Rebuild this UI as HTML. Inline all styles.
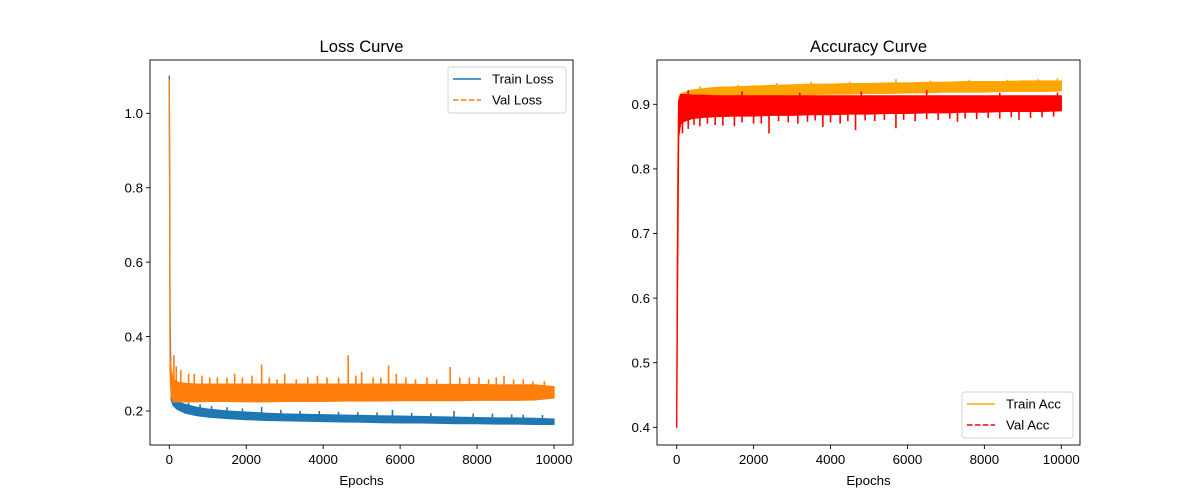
<!DOCTYPE html>
<html><head><meta charset="utf-8">
<style>
html,body{margin:0;padding:0;background:#fff;}
svg{display:block;font-family:"Liberation Sans","DejaVu Sans",sans-serif;}
</style></head>
<body>
<svg id="fig" width="1200" height="500" viewBox="0 0 1200 500"></svg>
<script>
// ---- data ----
const epochs = [0,20,50,100,200,400,700,1000,1500,2000,2500,3000,3500,4000,4500,5000,5500,6000,6500,7000,7500,8000,8500,9000,9500,10000];
const trainLossLo = [1.10,0.40,0.23,0.215,0.205,0.195,0.188,0.184,0.180,0.177,0.175,0.174,0.173,0.172,0.171,0.170,0.169,0.168,0.168,0.167,0.166,0.166,0.165,0.165,0.164,0.164];
const trainLossHi = [1.10,0.45,0.25,0.235,0.226,0.218,0.210,0.205,0.200,0.197,0.194,0.192,0.191,0.190,0.189,0.188,0.187,0.186,0.185,0.184,0.183,0.182,0.181,0.181,0.180,0.178];
const valLossLo = [1.09,0.30,0.24,0.225,0.225,0.225,0.225,0.226,0.226,0.225,0.225,0.226,0.226,0.226,0.227,0.227,0.227,0.228,0.228,0.228,0.228,0.229,0.229,0.229,0.230,0.235];
const valLossHi = [1.09,0.35,0.31,0.285,0.278,0.274,0.272,0.272,0.272,0.272,0.272,0.272,0.272,0.272,0.272,0.272,0.272,0.272,0.271,0.271,0.271,0.271,0.270,0.270,0.270,0.265];
const valLossSpikeEpochs = [120,180,300,500,650,850,1050,1250,1500,1700,1900,2150,2400,2600,2800,3000,3300,3600,3850,4100,4400,4650,4850,5000,5300,5500,5700,5900,6150,6400,6700,6950,7300,7550,7800,8050,8300,8500,8700,8950,9200,9450,9750];
const valLossSpikeVals = [0.35,0.32,0.31,0.30,0.30,0.295,0.29,0.29,0.29,0.30,0.29,0.295,0.325,0.29,0.285,0.30,0.285,0.29,0.295,0.29,0.29,0.35,0.295,0.305,0.29,0.29,0.322,0.30,0.29,0.285,0.29,0.285,0.318,0.29,0.29,0.29,0.285,0.29,0.295,0.285,0.285,0.28,0.28];
const trainLossSpikeEpochs = [200,500,800,1100,1500,1900,2400,2900,3400,3900,4400,4900,5400,5800,6300,6800,7400,7900,8400,8900,9200,9700];
const trainLossSpikeVals = [0.232,0.222,0.218,0.213,0.210,0.207,0.211,0.203,0.200,0.200,0.198,0.197,0.196,0.203,0.195,0.194,0.200,0.193,0.193,0.191,0.190,0.189];

const trainAccLo = [0.40,0.70,0.88,0.900,0.905,0.908,0.910,0.911,0.912,0.913,0.914,0.915,0.915,0.916,0.916,0.917,0.917,0.918,0.918,0.919,0.919,0.919,0.920,0.920,0.920,0.921];
const trainAccHi = [0.40,0.75,0.905,0.916,0.918,0.922,0.924,0.926,0.927,0.928,0.929,0.930,0.931,0.931,0.932,0.932,0.933,0.933,0.934,0.934,0.935,0.935,0.935,0.936,0.936,0.936];
const valAccLo = [0.40,0.60,0.85,0.870,0.874,0.878,0.880,0.881,0.882,0.882,0.883,0.883,0.884,0.884,0.885,0.885,0.886,0.886,0.887,0.887,0.888,0.888,0.889,0.889,0.889,0.890];
const valAccHi = [0.41,0.65,0.905,0.915,0.915,0.914,0.914,0.913,0.913,0.913,0.913,0.913,0.913,0.913,0.913,0.913,0.913,0.913,0.913,0.913,0.913,0.913,0.913,0.913,0.913,0.913];
const valAccDipEpochs = [150,300,450,600,800,1000,1200,1500,1700,2000,2200,2400,2650,2900,3150,3400,3600,3800,4000,4250,4450,4650,4900,5150,5400,5700,5900,6200,6500,6800,7100,7300,7500,7800,8100,8400,8700,8900,9200,9500,9800];
const valAccDipVals = [0.855,0.862,0.868,0.866,0.870,0.868,0.867,0.866,0.872,0.870,0.870,0.855,0.874,0.872,0.870,0.873,0.875,0.865,0.872,0.870,0.874,0.860,0.875,0.874,0.876,0.863,0.876,0.874,0.877,0.876,0.878,0.873,0.878,0.877,0.879,0.878,0.880,0.876,0.879,0.880,0.881];
const valAccUpEpochs = [300,1700,3200,4800,6500,8400,9900];
const valAccUpVals = [0.922,0.92,0.918,0.92,0.922,0.918,0.918];
const trainAccUpEpochs = [600,1600,2600,3500,4500,5700,6600,7600,8600,9400,9900];
const trainAccUpVals = [0.928,0.930,0.933,0.935,0.935,0.939,0.937,0.938,0.938,0.939,0.940];

const xTicks = [0,2000,4000,6000,8000,10000];
const lossYTicks = [0.2,0.4,0.6,0.8,1.0];
const lossYTickLabels = ["0.2","0.4","0.6","0.8","1.0"];
const accYTicks = [0.4,0.5,0.6,0.7,0.8,0.9];
const accYTickLabels = ["0.4","0.5","0.6","0.7","0.8","0.9"];

// ---- drawing ----
const NS = "http://www.w3.org/2000/svg";
const svg = document.getElementById('fig');
function mk(tag, attrs, parent){
  const e = document.createElementNS(NS, tag);
  for (const k in attrs) e.setAttribute(k, attrs[k]);
  (parent||svg).appendChild(e);
  return e;
}

function makeAxes(cfg){
  const g = mk('g', {});
  
  
  const xs = v => cfg.x0 + v / 10000 * (cfg.x1 - cfg.x0);
  const ys = v => cfg.yA + (v - cfg.vA) / (cfg.vB - cfg.vA) * (cfg.yB - cfg.yA);
  const clip = mk('clipPath', {id: cfg.name + '-clip'}, g);
  mk('rect', {x: cfg.L, y: cfg.T, width: cfg.R - cfg.L, height: cfg.B - cfg.T}, clip);
  const plot = mk('g', {'clip-path': 'url(#' + cfg.name + '-clip)'}, g);

  function interp(arr, e){
    for (let i = 0; i < epochs.length - 1; i++){
      if (e >= epochs[i] && e <= epochs[i+1]){
        const t = (e - epochs[i]) / (epochs[i+1] - epochs[i]);
        return arr[i] + t * (arr[i+1] - arr[i]);
      }
    }
    return arr[arr.length - 1];
  }

  function band(s){
    const sg = mk('g', {}, plot);
    
    
    const top = epochs.map((e, i) => xs(e).toFixed(2) + ',' + ys(s.hi[i]).toFixed(2));
    const bot = epochs.map((e, i) => xs(e).toFixed(2) + ',' + ys(s.lo[i]).toFixed(2)).reverse();
    mk('polygon', {points: top.concat(bot).join(' '), fill: s.color, stroke: s.color, 'stroke-width': 1.3, 'stroke-linejoin': 'round'}, sg);
    (s.spikes || []).forEach(sp => {
      sp.e.forEach((e, k) => {
        const base = sp.up ? interp(s.hi, e) : interp(s.lo, e);
        const ln = mk('line', {x1: xs(e), x2: xs(e), y1: ys(base), y2: ys(sp.v[k]), stroke: s.color, 'stroke-width': 1.6}, sg);
        
        
      });
    });
  }
  cfg.series.forEach(band);

  const fr = mk('rect', {x: cfg.L, y: cfg.T, width: cfg.R - cfg.L, height: cfg.B - cfg.T, fill: 'none', stroke: '#000', 'stroke-width': 0.9}, g);
  
  

  xTicks.forEach(t => {
    const x = xs(t);
    mk('line', {x1: x, x2: x, y1: cfg.B, y2: cfg.B + 4, stroke: '#000', 'stroke-width': 0.9}, g);
    const tx = mk('text', {x: x, y: cfg.B + 19, 'text-anchor': 'middle', 'font-size': 13.3, fill: '#000'}, g);
    tx.textContent = String(t);
    
    
  });
  cfg.yTicks.forEach((t, i) => {
    const y = ys(t);
    mk('line', {x1: cfg.L - 4, x2: cfg.L, y1: y, y2: y, stroke: '#000', 'stroke-width': 0.9}, g);
    const tx = mk('text', {x: cfg.L - 7, y: y + 4.7, 'text-anchor': 'end', 'font-size': 13.3, fill: '#000'}, g);
    tx.textContent = cfg.yLabels[i];
    
    
  });
  const xl = mk('text', {x: (cfg.L + cfg.R) / 2, y: cfg.B + 40, 'text-anchor': 'middle', 'font-size': 13.3, fill: '#000'}, g);
  xl.textContent = 'Epochs';
  
  
  const tt = mk('text', {x: (cfg.L + cfg.R) / 2, y: cfg.T - 8, 'text-anchor': 'middle', 'font-size': 16.6, fill: '#000'}, g);
  tt.textContent = cfg.title;
  
  

  const lg = mk('g', {}, g);
  
  
  const Lx = cfg.legend.x, Ly = cfg.legend.y;
  mk('rect', {x: Lx, y: Ly, width: cfg.legend.w, height: 46, rx: 2.5, fill: '#fff', 'fill-opacity': 0.8, stroke: '#d0d0d0', 'stroke-width': 0.9}, lg);
  cfg.series.forEach((s, i) => {
    const yy = Ly + 12 + i * 21;
    const ln = mk('line', {x1: Lx + 5, x2: Lx + 33, y1: yy, y2: yy, stroke: s.color, 'stroke-width': 1.5}, lg);
    if (s.dashed) ln.setAttribute('stroke-dasharray', '5.5,2.4');
    const tx = mk('text', {x: Lx + 44, y: yy + 4.7, 'font-size': 13.3, fill: '#000'}, lg);
    tx.textContent = s.label;
    
    
  });
}

makeAxes({
  name: 'loss-chart', title: 'Loss Curve',
  L: 150, R: 573, T: 60, B: 445,
  x0: 169.3, x1: 554,
  vA: 1.0, yA: 113.3, vB: 0.2, yB: 411,
  yTicks: lossYTicks, yLabels: lossYTickLabels,
  legend: {x: 448, y: 67, w: 118},
  series: [
    {name: 'train-loss-line', label: 'Train Loss', color: '#1f77b4', lo: trainLossLo, hi: trainLossHi, dashed: false,
     spikes: [{e: trainLossSpikeEpochs, v: trainLossSpikeVals, up: true}]},
    {name: 'val-loss-line', label: 'Val Loss', color: '#ff7f0e', lo: valLossLo, hi: valLossHi, dashed: true,
     spikes: [{e: valLossSpikeEpochs, v: valLossSpikeVals, up: true}]}
  ]
});

makeAxes({
  name: 'accuracy-chart', title: 'Accuracy Curve',
  L: 657, R: 1080, T: 60, B: 445,
  x0: 676.7, x1: 1061.3,
  vA: 0.9, yA: 104.3, vB: 0.4, yB: 427.3,
  yTicks: accYTicks, yLabels: accYTickLabels,
  legend: {x: 962, y: 392, w: 111},
  series: [
    {name: 'train-acc-line', label: 'Train Acc', color: '#ffa500', lo: trainAccLo, hi: trainAccHi, dashed: false,
     spikes: [{e: trainAccUpEpochs, v: trainAccUpVals, up: true}]},
    {name: 'val-acc-line', label: 'Val Acc', color: '#ff0000', lo: valAccLo, hi: valAccHi, dashed: true,
     spikes: [{e: valAccDipEpochs, v: valAccDipVals, up: false}, {e: valAccUpEpochs, v: valAccUpVals, up: true}]}
  ]
});
</script>
</body></html>
